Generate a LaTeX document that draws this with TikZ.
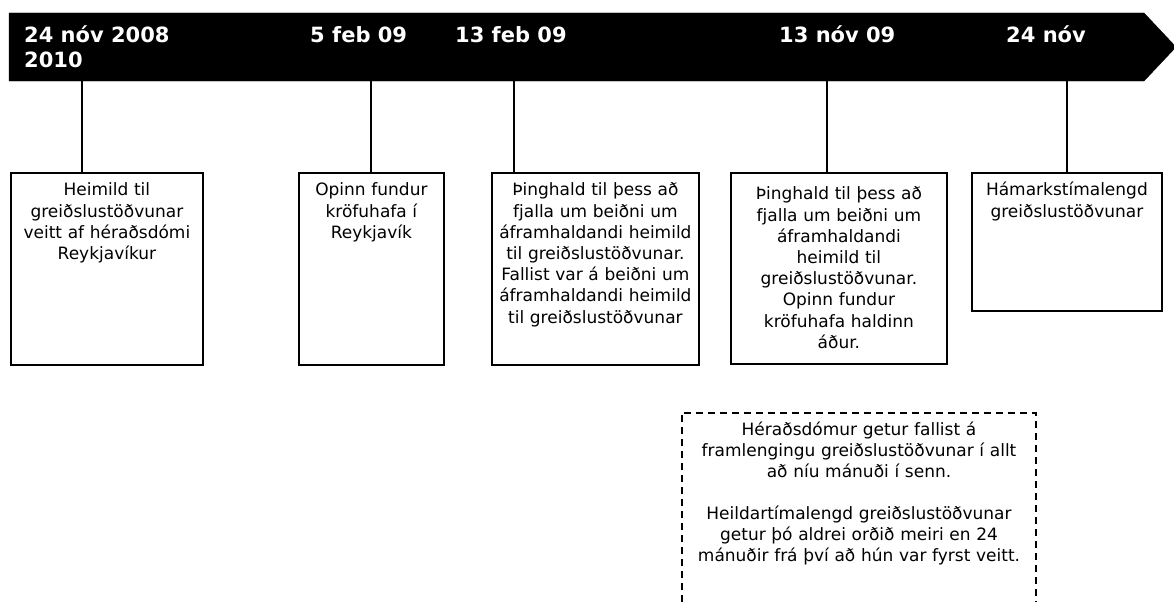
\documentclass[tikz,border=0pt]{standalone}
\usepackage{fontspec}
\setmainfont{DejaVu Sans}
\usetikzlibrary{calc}
\tikzset{
	datelabel/.style={anchor=base west, inner sep=0pt, text=white, align=left,
		font=\bfseries\fontsize{21}{25}\selectfont},
	eventbox/.style={draw, line width=1.8pt, anchor=north west, inner xsep=-12pt, inner ysep=0pt,
		align=center, font=\fontsize{17}{21.2}\selectfont, text height=23pt},
	tick/.style={line width=1.4pt},
	notebox/.style={line width=1.5pt, dash pattern=on 7pt off 5pt}
}

\begin{document}
\begin{tikzpicture}[x=1pt, y=-1pt]
			%%%%% START %%%%%
			\useasboundingbox (0, 0) rectangle (1174, 602);
			
			\draw[fill=black] (9, 13) -- (1144, 13) -- (1176, 47) -- (1144, 81) -- (9, 81) -- cycle;
			
			\node[datelabel] (d1) at (24, 67) {24 nóv 2008\\2010};
			\node[datelabel] (d2) at (310, 42) {5 feb 09};
			\node[datelabel] (d3) at (455, 42) {13 feb 09};
			\node[datelabel] (d4) at (779, 42) {13 nóv 09};
			\node[datelabel] (d5) at (1006, 42) {24 nóv};
			
			\coordinate (t1) at (82, 81);
			\coordinate (t2) at (371, 81);
			\coordinate (t3) at (514, 81);
			\coordinate (t4) at (827, 81);
			\coordinate (t5) at (1067, 81);
			
			\node[eventbox, text width=216pt, text depth=169pt] (b1) at (10, 172)
				{Heimild til\\greiðslustöðvunar\\veitt af héraðsdómi\\Reykjavíkur};
			\node[eventbox, text width=169pt, text depth=169pt] (b2) at (298, 172)
				{Opinn fundur\\kröfuhafa í\\Reykjavík};
			\node[eventbox, text width=231pt, text depth=169pt] (b3) at (491, 172)
				{Þinghald til þess að\\fjalla um beiðni um\\áframhaldandi heimild\\til greiðslustöðvunar.\\Fallist var á beiðni um\\áframhaldandi heimild\\til greiðslustöðvunar};
			\node[eventbox, text width=240pt, text height=27pt, text depth=164pt] (b4) at (730, 172)
				{Þinghald til þess að\\fjalla um beiðni um\\áframhaldandi\\heimild til\\greiðslustöðvunar.\\Opinn fundur\\kröfuhafa haldinn\\áður.};
			\node[eventbox, text width=214pt, text depth=115pt] (b5) at (971, 172)
				{Hámarkstímalengd\\greiðslustöðvunar};
			
			\draw[tick] (t1) -- (t1 |- b1.north);
			\draw[tick] (t2) -- (t2 |- b2.north);
			\draw[tick] (t3) -- (t3 |- b3.north);
			\draw[tick] (t4) -- (t4 |- b4.north);
			\draw[tick] (t5) -- (t5 |- b5.north);
			
			\node[anchor=north, inner sep=0pt, align=center, text width=354pt,
				font=\fontsize{17}{21}\selectfont, text height=22pt, text depth=167pt] (n1) at (859, 413)
				{Héraðsdómur getur fallist á\\framlengingu greiðslustöðvunar í allt\\að níu mánuði í senn.\\[21pt]Heildartímalengd greiðslustöðvunar\\getur þó aldrei orðið meiri en 24\\mánuðir frá því að hún var fyrst veitt.};
			\draw[notebox] (n1.south west) -- (n1.north west) -- (n1.north east) -- (n1.south east);
			
			%%%%% END %%%%%
		\end{tikzpicture}
\end{document}
